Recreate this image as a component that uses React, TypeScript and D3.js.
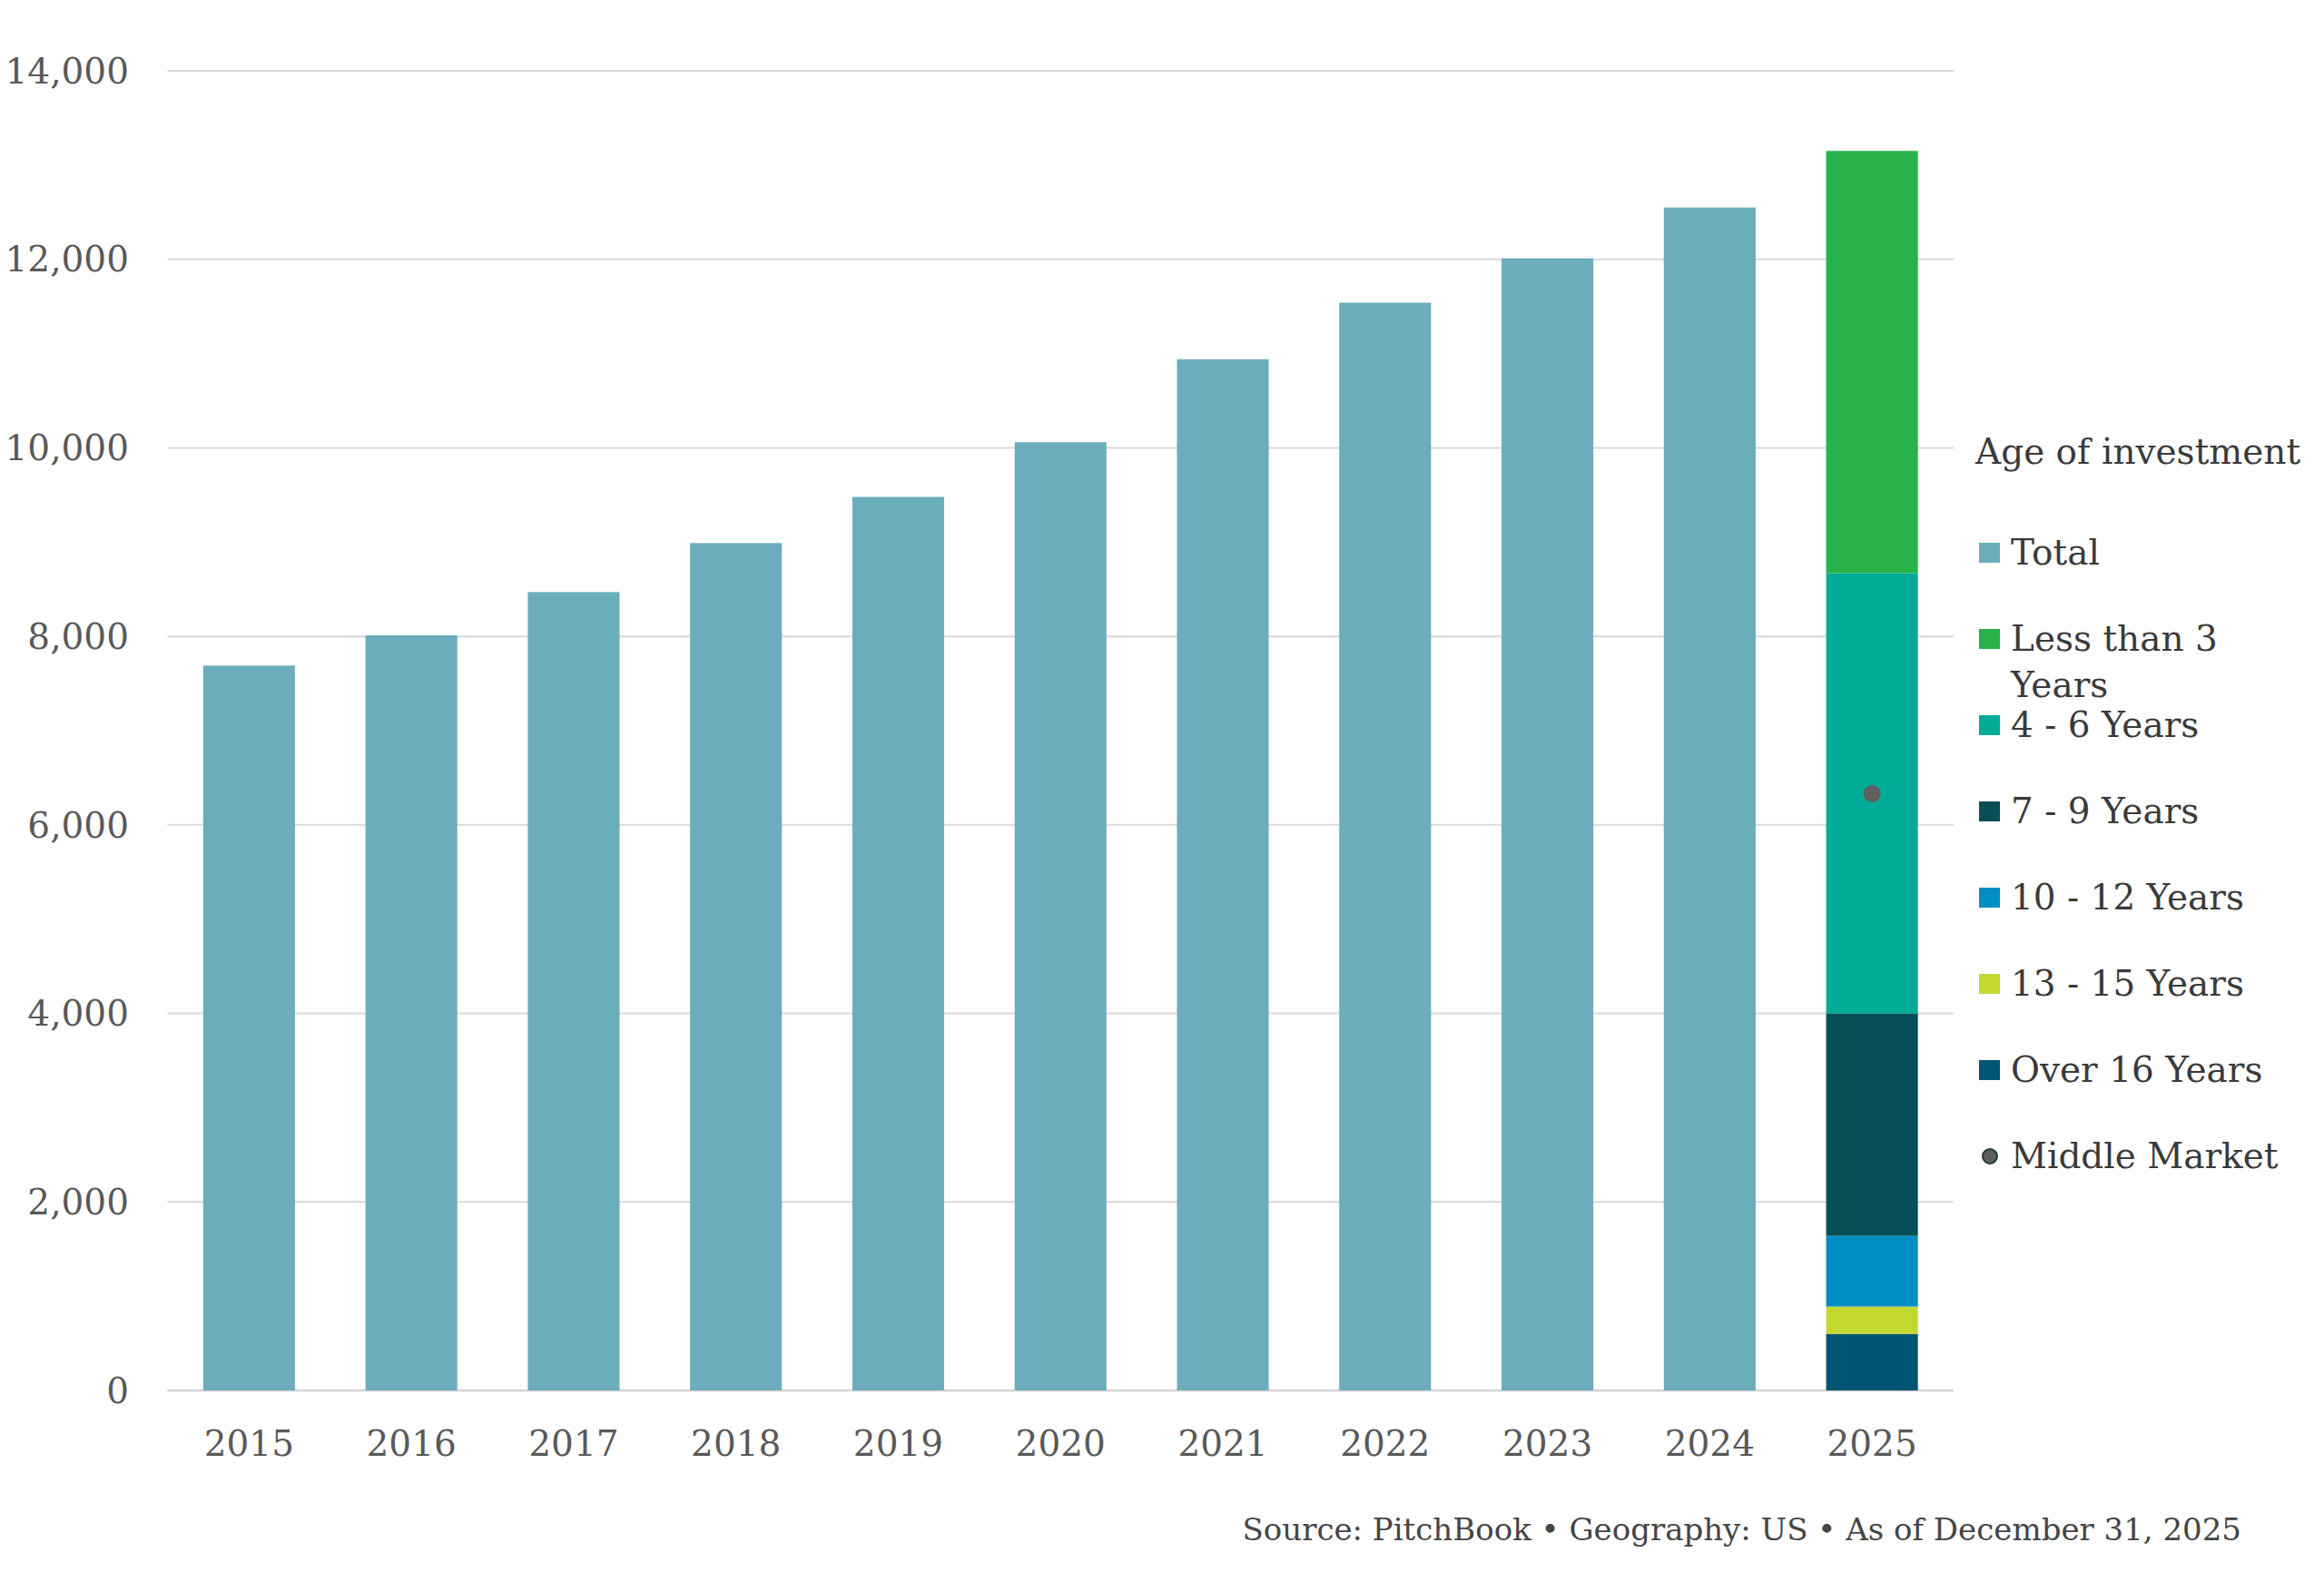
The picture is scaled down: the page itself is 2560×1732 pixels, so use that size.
import { useEffect, useRef } from 'react';
import * as d3 from 'd3';

const years = ['2015', '2016', '2017', '2018', '2019', '2020', '2021', '2022', '2023', '2024', '2025'];
// Total count per year (2025 is shown broken out by age instead)
const totalValues: (number | null)[] = [7690, 8010, 8470, 8990, 9480, 10060, 10940, 11540, 12010, 12550, null];

// 2025 breakdown, bottom to top
const ageGroups = ['Over 16 Years', '13 - 15 Years', '10 - 12 Years', '7 - 9 Years', '4 - 6 Years', 'Less than 3 Years'];
const ageValues2025 = [600, 290, 750, 2360, 4670, 4480];
const ageColors = ['#005473', '#c3d72f', '#008ec3', '#074f56', '#00ac97', '#27b24a'];

const middleMarketYear = '2025';
const middleMarketValue = 6330;

const yTicks = [0, 2000, 4000, 6000, 8000, 10000, 12000, 14000];

const legendLabels = ['Total', 'Less than 3|Years', '4 - 6 Years', '7 - 9 Years', '10 - 12 Years', '13 - 15 Years', 'Over 16 Years', 'Middle Market'];
const legendColors = ['#6badbd', '#27b24a', '#00ac97', '#074f56', '#008ec3', '#c3d72f', '#005473', '#5f5f5f'];

const FONT = "'DejaVu Serif', serif";

export default function App() {
  const svgRef = useRef<SVGSVGElement>(null);
  const width = 2560;
  const height = 1732;

  useEffect(() => {
    if (!svgRef.current) return;
    const svg = d3.select(svgRef.current);
    svg.selectAll('*').remove();

    svg.append('rect').attr('width', width).attr('height', height).attr('fill', '#ffffff');

    const x0 = 184.5, x1 = 2152;
    const yBottom = 1532, yTop = 78;

    const xScale = d3.scaleBand<string>()
      .domain(years)
      .range([x0, x1])
      .paddingInner(0.4345)
      .paddingOuter(0.22);

    const yScale = d3.scaleLinear()
      .domain([0, 14000])
      .range([yBottom, yTop]);

    // Grid lines
    svg.selectAll('.grid')
      .data(yTicks)
      .enter()
      .append('line')
      .attr('x1', x0)
      .attr('x2', x1)
      .attr('y1', d => yScale(d))
      .attr('y2', d => yScale(d))
      .attr('stroke', '#d9d9d9')
      .attr('stroke-width', d => (d === 0 ? 3 : 2));

    // Y labels
    svg.selectAll('.ylab')
      .data(yTicks)
      .enter()
      .append('text')
      .attr('x', 142)
      .attr('y', d => yScale(d))
      .attr('dy', '0.35em')
      .attr('text-anchor', 'end')
      .style('font-family', FONT)
      .style('font-size', '39px')
      .style('fill', '#595959')
      .text(d => d3.format(',')(d));

    // Total bars
    const totals = years
      .map((y, i) => ({ year: y, value: totalValues[i] }))
      .filter(d => d.value !== null) as { year: string; value: number }[];

    svg.selectAll('.bar-total')
      .data(totals)
      .enter()
      .append('rect')
      .attr('x', d => xScale(d.year) || 0)
      .attr('y', d => yScale(d.value))
      .attr('width', xScale.bandwidth())
      .attr('height', d => yBottom - yScale(d.value))
      .attr('fill', legendColors[0]);

    // 2025 stacked bar
    const row: Record<string, number> = {};
    ageGroups.forEach((g, i) => { row[g] = ageValues2025[i]; });
    const stacked = d3.stack<Record<string, number>>().keys(ageGroups)([row]);

    svg.selectAll('.bar-age')
      .data(stacked)
      .enter()
      .append('rect')
      .attr('x', xScale('2025') || 0)
      .attr('y', d => yScale(d[0][1]))
      .attr('width', xScale.bandwidth())
      .attr('height', d => yScale(d[0][0]) - yScale(d[0][1]))
      .attr('fill', (_d, i) => ageColors[i]);

    // Middle market point
    svg.append('circle')
      .attr('cx', (xScale(middleMarketYear) || 0) + xScale.bandwidth() / 2)
      .attr('cy', yScale(middleMarketValue))
      .attr('r', 9.5)
      .attr('fill', '#5f5f5f');

    // X labels
    svg.selectAll('.xlab')
      .data(years)
      .enter()
      .append('text')
      .attr('x', d => (xScale(d) || 0) + xScale.bandwidth() / 2)
      .attr('y', 1604)
      .attr('text-anchor', 'middle')
      .style('font-family', FONT)
      .style('font-size', '39px')
      .style('fill', '#595959')
      .text(d => d);

    // Legend
    const legend = svg.append('g');
    legend.append('text')
      .attr('x', 2176)
      .attr('y', 511)
      .style('font-family', FONT)
      .style('font-size', '39px')
      .style('fill', '#3a3a3a')
      .text('Age of investment');

    legendLabels.forEach((label, i) => {
      const cy = 609 + i * 95;
      if (label === 'Middle Market') {
        legend.append('circle')
          .attr('cx', 2192)
          .attr('cy', cy)
          .attr('r', 8)
          .attr('fill', legendColors[i])
          .attr('stroke', '#1f3a3d')
          .attr('stroke-width', 2);
      } else {
        legend.append('rect')
          .attr('x', 2180)
          .attr('y', cy - 11)
          .attr('width', 23)
          .attr('height', 22)
          .attr('fill', legendColors[i]);
      }
      const lines = label.split('|');
      const t = legend.append('text')
        .attr('x', 2215)
        .attr('y', cy + 13)
        .style('font-family', FONT)
        .style('font-size', '39px')
        .style('fill', '#3a3a3a');
      lines.forEach((ln, j) => {
        t.append('tspan')
          .attr('x', 2215)
          .attr('dy', j === 0 ? 0 : 51)
          .text(ln);
      });
    });

    // Source
    svg.append('text')
      .attr('x', 2469)
      .attr('y', 1697)
      .attr('text-anchor', 'end')
      .style('font-family', FONT)
      .style('font-size', '34px')
      .style('fill', '#454545')
      .text('Source: PitchBook  \u2022  Geography: US  \u2022  As of December 31, 2025');
  }, []);

  return (
    <svg
      ref={svgRef}
      width={width}
      height={height}
      style={{ position: 'absolute', left: 0, top: 0, display: 'block' }}
    />
  );
}
